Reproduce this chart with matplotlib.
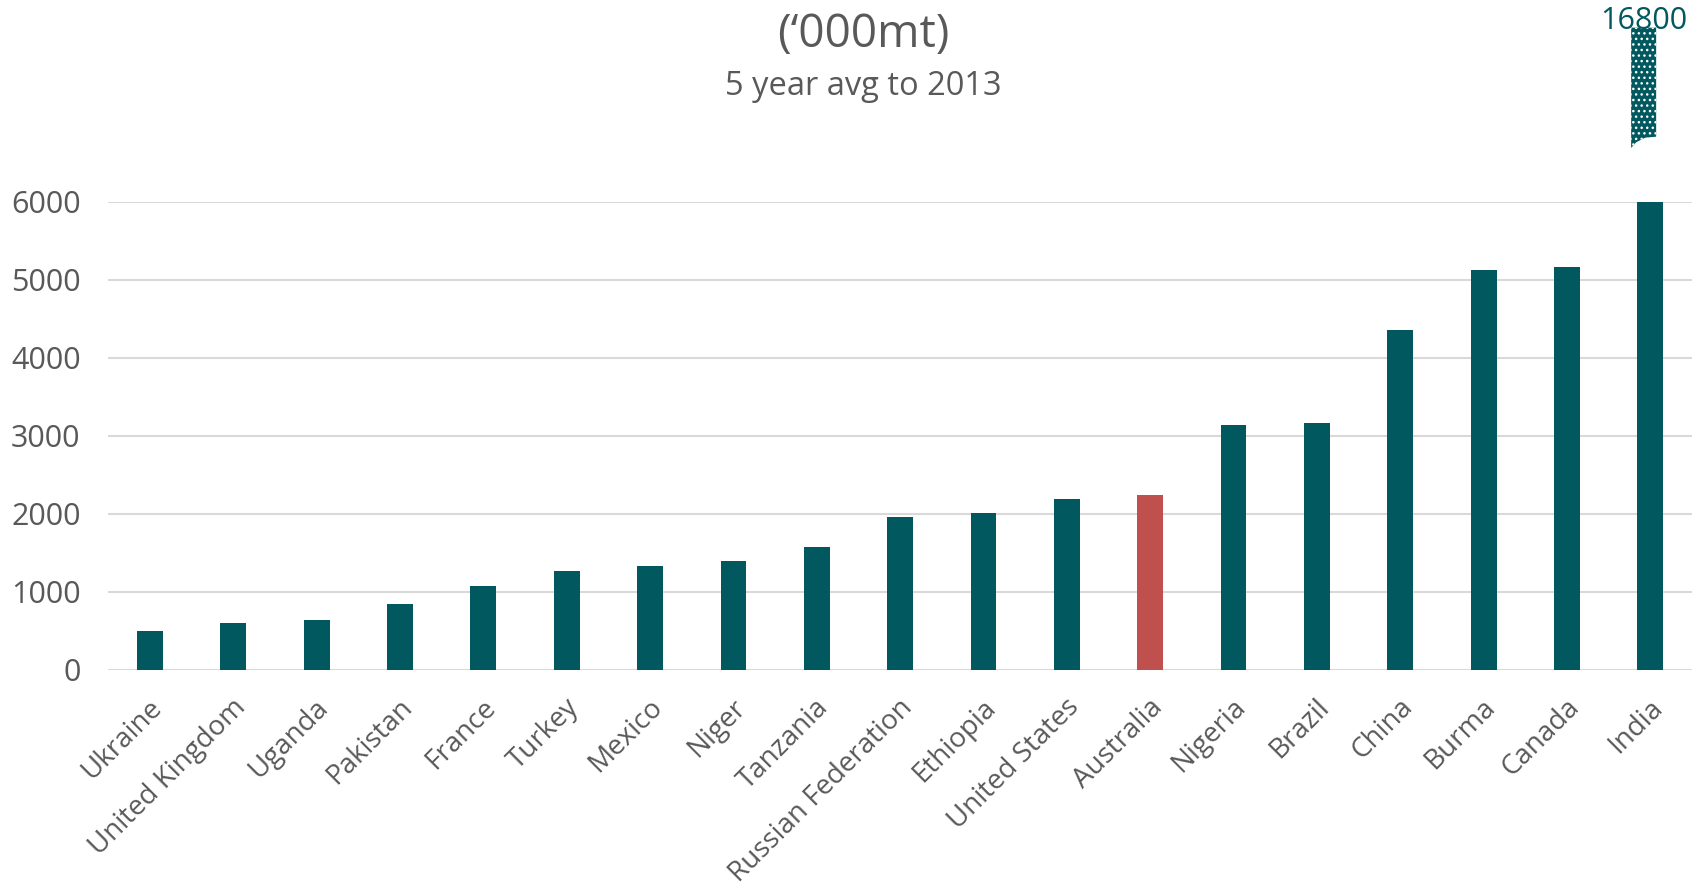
import matplotlib.pyplot as plt
from matplotlib.patches import Polygon
from matplotlib.transforms import ScaledTranslation

plt.rcParams['font.family'] = ['Open Sans', 'DejaVu Sans']

# data ('000mt, 5 year avg to 2013)
countries = ['Ukraine', 'United Kingdom', 'Uganda', 'Pakistan', 'France', 'Turkey',
             'Mexico', 'Niger', 'Tanzania', 'Russian Federation', 'Ethiopia',
             'United States', 'Australia', 'Nigeria', 'Brazil', 'China', 'Burma',
             'Canada', 'India']
values = [500, 600, 640, 850, 1070, 1265, 1335, 1395, 1575, 1965, 2015, 2185,
          2240, 3145, 3170, 4360, 5125, 5170, 16800]
highlight = 'Australia'

teal = '#02585F'
red = '#C0504D'
grey = '#595959'

fig = plt.figure(figsize=(16.92, 8.85), dpi=100)
ax = fig.add_axes([0.064, 0.243, 0.936, 0.529])

ymax = 6000
colors = [red if c == highlight else teal for c in countries]
x = range(len(countries))
ax.bar(x, values, width=0.31, color=colors, zorder=2)

ax.set_ylim(0, ymax)
ax.set_xlim(-0.5, len(countries) - 0.5)
ax.set_yticks(range(0, ymax + 1, 1000))
ax.yaxis.grid(True, color='#D9D9D9', linewidth=1.5, zorder=0)
for s in ax.spines.values():
    s.set_visible(False)
ax.tick_params(axis='both', length=0, labelcolor=grey)
ax.tick_params(axis='y', pad=20, labelsize=22)
ax.set_xticks(list(x))
ax.set_xticklabels(countries, rotation=45, ha='right', va='center',
                   rotation_mode='anchor', fontsize=20)
ax.tick_params(axis='x', pad=24)
shift = ScaledTranslation(0.08, 0, fig.dpi_scale_trans)
for lab in ax.get_xticklabels():
    lab.set_transform(lab.get_transform() + shift)

# dotted "break" piece above the clipped bar of the largest value
imax = values.index(max(values))
cx = imax - 0.08
hw = 0.15
top = ymax * 1.372
br = ymax * 1.139
bl = ymax * 1.115
piece = Polygon([(cx - hw, top), (cx + hw, top), (cx + hw, br),
                 (cx + 0.02, br - ymax * 0.002), (cx - hw * 0.6, br - ymax * 0.012),
                 (cx - hw, bl)],
                closed=True, transform=ax.transData, clip_on=False,
                facecolor=teal, edgecolor='white', linewidth=0, hatch='...', zorder=3)
ax.add_patch(piece)
ax.text(cx, ymax * 1.37, f'{max(values)}', ha='center', va='baseline',
        fontsize=22, color=teal, zorder=4)

fig.text(0.51, 0.96, '(\u2018000mt)', ha='center', va='center', fontsize=33, color=grey)
fig.text(0.51, 0.902, '5 year avg to 2013', ha='center', va='center', fontsize=23.5, color=grey)

fig.savefig('out.png', dpi=100)
